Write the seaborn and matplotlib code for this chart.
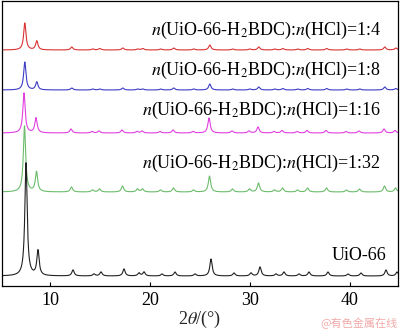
import numpy as np
import pandas as pd
import matplotlib
matplotlib.use("Agg")
import matplotlib.pyplot as plt
import seaborn as sns

# ---- data ----
series_names = ["1:4", "1:8", "1:16", "1:32", "UiO-66"]
labels = [
    "$n$(UiO-66-H$_2$BDC):$n$(HCl)=1:4",
    "$n$(UiO-66-H$_2$BDC):$n$(HCl)=1:8",
    "$n$(UiO-66-H$_2$BDC):$n$(HCl)=1:16",
    "$n$(UiO-66-H$_2$BDC):$n$(HCl)=1:32",
    "UiO-66",
]
colors = ["#d93333", "#3c3cc4", "#e040e0", "#6cbc6c", "#222222"]
offsets = [236, 196, 153, 94, 10]          # baseline of each stacked pattern
shifts = [-0.12, -0.12, -0.2, -0.15, 0.0]  # small peak shift of each pattern

peak_pos = [7.6, 8.8, 12.3, 14.4, 15.1, 17.4, 18.9, 19.4, 21.2, 22.5, 24.5, 26.1,
            28.4, 30.1, 31.0, 32.6, 33.4, 34.9, 35.9, 37.8, 39.8, 41.1, 43.6, 44.7]
h_14 = [27, 9, 3, 1, 1.5, 2, 1, 1.5, 1, 2, 1, 5, 1, 1, 3, 1, 1.5, 1, 1.5, 1.5, 1, 1, 3, 2]
h_18 = [28, 8, 2, 1, 1, 2, 1, 1, 1, 2, 1, 6, 1, 1, 3, 1, 1.5, 1, 1.5, 1.5, 1, 1, 3, 1.5]
h_116 = [40, 15, 4, 1.5, 2, 3, 1.5, 2, 1.5, 3, 1.5, 15, 2, 2, 6, 1.5, 2.5, 1.5, 2.5, 2.5, 1.5, 2, 4, 2.5]
h_132 = [66, 20, 5, 2, 3, 6, 3, 3, 2, 4, 2, 16, 3, 3, 9, 2, 4, 2, 4, 4, 2, 3, 6, 4]
h_uio = [113, 25, 6, 2, 4, 7, 3, 4, 2, 4, 2, 17, 3, 3, 9, 2, 4, 2, 4, 4, 2, 3, 6, 4]
heights = [h_14, h_18, h_116, h_132, h_uio]

xticks = [10, 20, 30, 40]

# ---- build profiles from the peak table ----
two_theta = np.linspace(5.2, 44.8, 3000)
hw = 0.14
rows = []
for name, off, sh, hs in zip(series_names, offsets, shifts, heights):
    y = np.full_like(two_theta, float(off))
    for p, h in zip(peak_pos, hs):
        y += h / (1 + ((two_theta - (p + sh)) / hw) ** 2)
    rows.append(pd.DataFrame({"two_theta": two_theta, "I": y, "sample": name}))
df = pd.concat(rows, ignore_index=True)

sns.set_theme(style="white")
plt.rcParams["font.family"] = ["Liberation Serif", "DejaVu Serif"]
plt.rcParams["mathtext.fontset"] = "stix"

fig = plt.figure(figsize=(4.0, 3.33), dpi=100)
ax = fig.add_axes([0.005, 0.141, 0.99, 0.856])
sns.lineplot(data=df, x="two_theta", y="I", hue="sample", hue_order=series_names,
             palette=colors, estimator=None, sort=False, linewidth=0.8,
             legend=False, ax=ax)

ax.set_xlim(5.2, 44.8)
ax.set_ylim(0, 285)
ax.set_xticks(xticks)
ax.set_xticklabels([str(t) for t in xticks])
ax.set_yticks([])
ax.tick_params(axis="x", direction="in", length=3, width=0.8, pad=4,
               labelsize=13, colors="black", bottom=True)
for s in ax.spines.values():
    s.set_color("black")
    s.set_linewidth(0.9)
ax.set_xlabel(r"2$\theta$/(°)", fontsize=13, labelpad=0)
ax.set_ylabel("")

label_y = [256, 216, 176, 123, 31]
label_x = [43.1, 43.1, 43.1, 43.1, 43.6]
for lab, lx, ly in zip(labels, label_x, label_y):
    ax.text(lx, ly, lab, ha="right", va="center", fontsize=13, color="black")

fig.text(0.995, 0.03, "@有色金属在线", ha="right", va="center", fontsize=8,
         color="#f2a9a9", family=["Noto Sans CJK SC", "DejaVu Sans"])

fig.savefig("out.png", dpi=100)
